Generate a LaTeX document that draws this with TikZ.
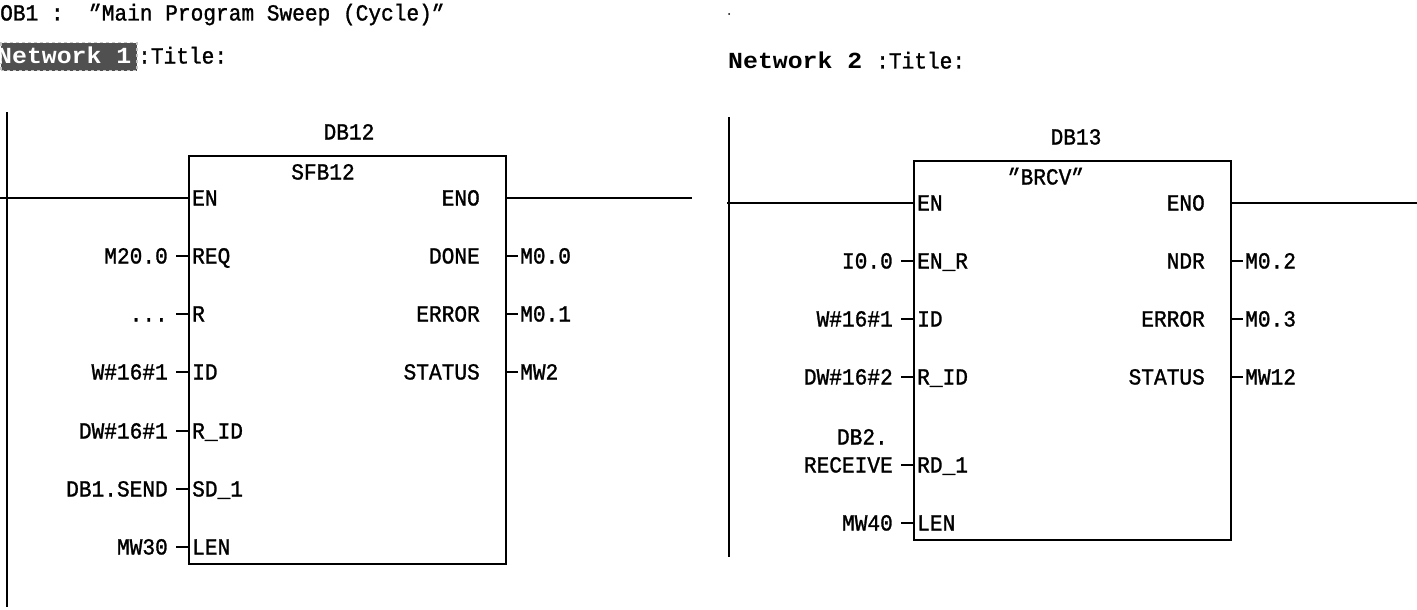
\documentclass[tikz,border=0pt]{standalone}
\usepackage{fontspec}
\newfontfamily\plc{Liberation Mono}[FakeStretch=0.92, FakeBold=1.2, ItalicFont=*, ItalicFeatures={FakeSlant=0.35}]
\newfontfamily\plcb{Liberation Mono}[FakeStretch=1.08]
\definecolor{hlgray}{RGB}{80,80,80}
\newcommand\mytdots{...}
\newcommand\dq{\kern-5pt{\itshape ″}\kern5pt}
\tikzset{
  rail/.style={line width=1.8pt},
  wire/.style={line width=1.6pt},
  fbox/.style={draw, line width=1.8pt, rectangle, inner sep=0pt},
  txt/.style={font=\plc\fontsize{23}{25}\selectfont, inner sep=0pt, text height=15pt, text depth=0pt},
  btxt/.style={font=\plcb\fontsize{23}{25}\selectfont\bfseries, inner sep=0pt, text height=15pt, text depth=0pt},
  inl/.style={txt, anchor=east, inner xsep=8pt},
  outl/.style={txt, anchor=west, inner xsep=2pt},
  pinl/.style={txt, anchor=west},
  pinr/.style={txt, anchor=east},
}
\begin{document}
\begin{tikzpicture}[x=1pt,y=-1pt]
\useasboundingbox (0,0) rectangle (1417,610);
% header
\node[txt, anchor=west] (hdr) at (0,13) {OB1 :\ \ \dq Main Program Sweep (Cycle)\dq};
\fill (729,14) circle (1pt);
\node[fill=hlgray, draw=gray!45, dashed, line width=1.5pt, minimum width=136pt, minimum height=28pt, anchor=north west, inner sep=0pt] (hl) at (0,42) {};
\node[btxt, text=white, anchor=west] (nw1) at (-3,56) {Network 1};
\node[txt, anchor=west] (t1) at (138,56) {:Title:};
\node[btxt, anchor=west] (nw2) at (728,61) {Network 2};
\node[txt, anchor=west] (t2) at (876,61) {:Title:};

% ===== Network 1 =====
\coordinate (r1t) at (7,112);
\coordinate (r1b) at (7,607);
\draw[rail] (r1t) -- (r1b);
\node[fbox, minimum width=317pt, minimum height=408pt, anchor=north west] (fb1) at (188,155) {};
\node[txt] (db12) at (349,132) {DB12};
\node[txt] (sfb12) at (323,172) {SFB12};
% EN / ENO
\coordinate (l1s) at (0,198);
\coordinate (p1en) at (188,198);
\coordinate (p1eno) at (505,198);
\coordinate (l1e) at (692,198);
\draw[wire] (l1s) -- (p1en);
\draw[wire] (p1eno) -- (l1e);
\node[pinl] (n1en) at (192,198) {EN};
\node[pinr] (n1eno) at (480,198) {ENO};
% inputs
\foreach \nm/\y/\pin/\op in {req/256/REQ/M20.0, r/314/R/\mytdots, id/372/ID/W\#16\#1, rid/431/R\_ID/DW\#16\#1, sd/489/SD\_1/DB1.SEND, len/547/LEN/MW30}{
  \coordinate (p1\nm) at (188,\y);
  \node[pinl] (n1\nm) at (192,\y) {\pin};
  \node[inl] (o1\nm) at (176,\y) {\op};
  \draw[wire] (o1\nm.east) -- (p1\nm);
}
% outputs
\foreach \nm/\y/\pin/\op in {done/256/DONE/M0.0, err/314/ERROR/M0.1, stat/372/STATUS/MW2}{
  \coordinate (q1\nm) at (505,\y);
  \node[pinr] (m1\nm) at (480,\y) {\pin};
  \node[outl] (u1\nm) at (518,\y) {\op};
  \draw[wire] (q1\nm) -- (u1\nm.west);
}

% ===== Network 2 =====
\coordinate (r2t) at (729,117);
\coordinate (r2b) at (729,557);
\draw[rail] (r2t) -- (r2b);
\node[fbox, minimum width=317pt, minimum height=379pt, anchor=north west] (fb2) at (913,160) {};
\node[txt] (db13) at (1076,137) {DB13};
\node[txt] (brcv) at (1046,177) {\dq BRCV\dq};
\coordinate (l2s) at (727,203);
\coordinate (p2en) at (913,203);
\coordinate (p2eno) at (1230,203);
\coordinate (l2e) at (1417,203);
\draw[wire] (l2s) -- (p2en);
\draw[wire] (p2eno) -- (l2e);
\node[pinl] (n2en) at (917,203) {EN};
\node[pinr] (n2eno) at (1205,203) {ENO};
\foreach \nm/\y/\pin/\op in {enr/261/EN\_R/I0.0, id/319/ID/W\#16\#1, rid/377/R\_ID/DW\#16\#2, rd/465/RD\_1/RECEIVE, len/523/LEN/MW40}{
  \coordinate (p2\nm) at (913,\y);
  \node[pinl] (n2\nm) at (917,\y) {\pin};
  \node[inl] (o2\nm) at (901,\y) {\op};
  \draw[wire] (o2\nm.east) -- (p2\nm);
}
\node[txt, anchor=east] (db2) at (888,437) {DB2.};
\foreach \nm/\y/\pin/\op in {ndr/261/NDR/M0.2, err/319/ERROR/M0.3, stat/377/STATUS/MW12}{
  \coordinate (q2\nm) at (1230,\y);
  \node[pinr] (m2\nm) at (1205,\y) {\pin};
  \node[outl] (u2\nm) at (1243,\y) {\op};
  \draw[wire] (q2\nm) -- (u2\nm.west);
}
\end{tikzpicture}
\end{document}
